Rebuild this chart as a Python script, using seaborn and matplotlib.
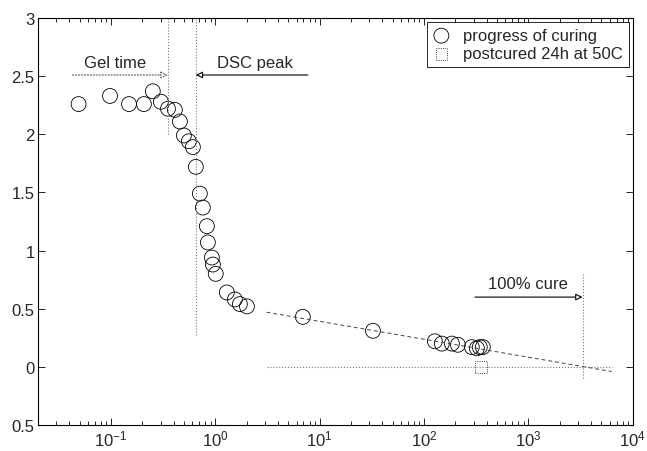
import matplotlib
matplotlib.use('Agg')
import matplotlib.pyplot as plt
import matplotlib.ticker as mticker
import numpy as np
import seaborn as sns

# progress of curing (time vs value)
cure_time = [0.049, 0.098, 0.149, 0.207, 0.252, 0.301, 0.352, 0.41, 0.458, 0.50,
             0.558, 0.61, 0.651, 0.711, 0.76, 0.831, 0.849, 0.927, 0.948, 1.01,
             1.29, 1.54, 1.72, 2.01, 6.9, 32.4, 127, 148, 185, 211,
             287, 321, 342, 366]
cure_val = [2.26, 2.33, 2.26, 2.26, 2.37, 2.28, 2.22, 2.21, 2.11, 1.99,
            1.94, 1.89, 1.72, 1.49, 1.37, 1.21, 1.07, 0.94, 0.88, 0.80,
            0.64, 0.58, 0.54, 0.52, 0.43, 0.31, 0.22, 0.20, 0.20, 0.19,
            0.17, 0.16, 0.17, 0.17]

# postcured sample
post_time = [350]
post_val = [0.0]

# extrapolated fit line
fit_time = [3.1, 6300]
fit_val = [0.47, -0.04]

gel_time = 0.35
dsc_peak = 0.65
full_cure = 3300

ytick_vals = [-0.5, 0, 0.5, 1, 1.5, 2, 2.5, 3]
ytick_labels = ['0.5', '0', '0.5', '1', '1.5', '2', '2.5', '3']

sns.set_theme(style='ticks')
plt.rcParams['font.family'] = ['Liberation Sans', 'DejaVu Sans']
plt.rcParams['mathtext.default'] = 'regular'

fig = plt.figure(figsize=(6.47, 4.52), dpi=100)
ax = fig.add_axes([0.0587, 0.0575, 0.9193, 0.9004])

# reference lines
ax.plot(fit_time, [0, 0], color='#777777', linestyle=':', linewidth=0.8)
sns.lineplot(x=fit_time, y=fit_val, color='#444444', linestyle=(0, (4, 3)),
             linewidth=0.7, ax=ax)
ax.vlines(gel_time, 2.0, 3.0, colors='#777777', linestyles=':', linewidth=0.8)
ax.vlines(dsc_peak, 0.27, 3.0, colors='#777777', linestyles=':', linewidth=0.8)
ax.vlines(full_cure, -0.1, 0.82, colors='#777777', linestyles=':', linewidth=0.8)

sns.scatterplot(x=cure_time, y=cure_val, marker='o', s=115, label='progress of curing', ax=ax)
sns.scatterplot(x=post_time, y=post_val, marker='s', s=70, label='postcured 24h at 50C', ax=ax)
for coll, ls in zip(ax.collections[-2:], ['-', ':']):
    coll.set_facecolor('none')
    coll.set_edgecolor('black')
    coll.set_linewidth(0.6)
    coll.set_linestyle(ls)

# arrows and labels
ax.annotate('', xy=(gel_time, 2.51), xytext=(0.043, 2.51),
            arrowprops=dict(arrowstyle='-|>', linestyle=':', fc='white', ec='#555555',
                            lw=0.8, mutation_scale=10, shrinkA=0, shrinkB=0))
ax.text(0.11, 2.62, 'Gel time', ha='center', va='center', fontsize=12)
ax.annotate('', xy=(dsc_peak, 2.51), xytext=(7.7, 2.51),
            arrowprops=dict(arrowstyle='-|>', fc='white', ec='black',
                            lw=0.8, mutation_scale=10, shrinkA=0, shrinkB=0))
ax.text(2.4, 2.62, 'DSC peak', ha='center', va='center', fontsize=12)
ax.annotate('', xy=(full_cure, 0.60), xytext=(307, 0.60),
            arrowprops=dict(arrowstyle='-|>', fc='white', ec='black',
                            lw=0.8, mutation_scale=10, shrinkA=0, shrinkB=0))
ax.text(990, 0.72, '100% cure', ha='center', va='center', fontsize=12)

ax.set_xscale('log')
ax.set_xlim(0.02, 1e4)
ax.set_ylim(-0.5, 3)
ax.set_yticks(ytick_vals)
ax.set_yticklabels(ytick_labels)
ax.xaxis.set_major_locator(mticker.LogLocator(base=10, numticks=10))
ax.xaxis.set_minor_locator(mticker.LogLocator(base=10, subs=np.arange(2, 10), numticks=20))
ax.xaxis.set_minor_formatter(mticker.NullFormatter())
ax.set_xlabel('')
ax.set_ylabel('')

for s in ax.spines.values():
    s.set_visible(True)
    s.set_color('black')
    s.set_linewidth(0.8)
ax.tick_params(which='both', direction='in', top=True, right=True, labelsize=12,
               color='black', width=0.6)
ax.tick_params(which='major', length=5, pad=2.5)
ax.tick_params(which='minor', length=3)

leg = ax.legend(loc='upper right', fontsize=12, frameon=True, fancybox=False,
                edgecolor='black', framealpha=1, borderaxespad=0.25,
                handlelength=1.0, handletextpad=0.8, borderpad=0.35, labelspacing=0.2)
leg.get_frame().set_linewidth(0.6)

fig.savefig('out.png', dpi=100)
